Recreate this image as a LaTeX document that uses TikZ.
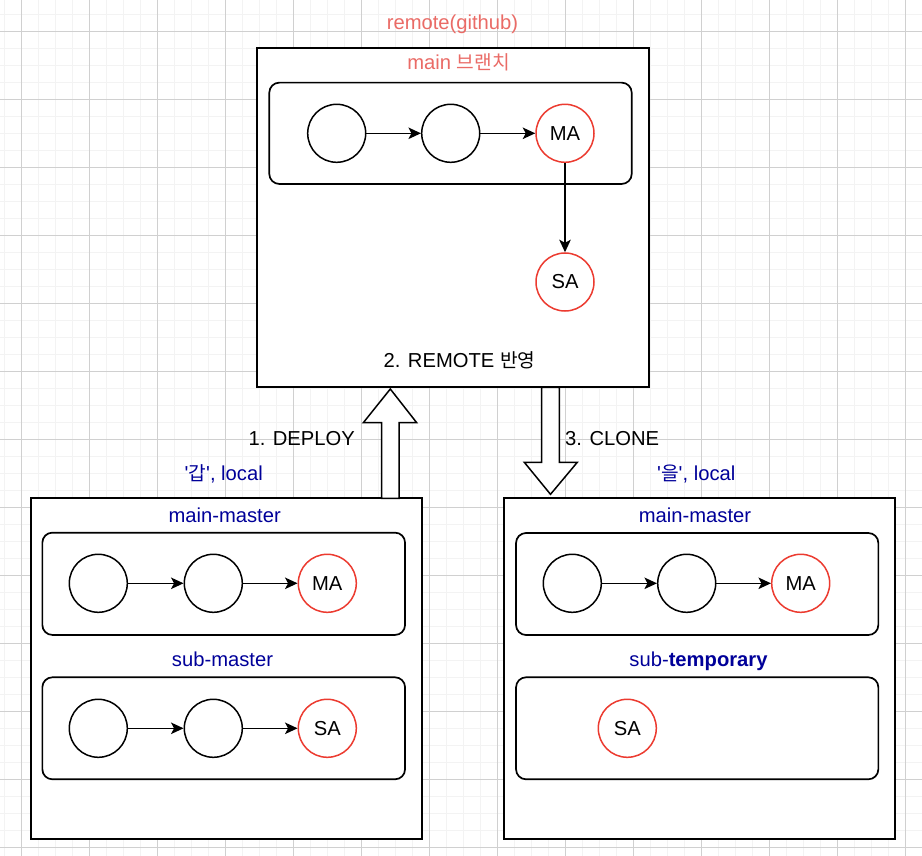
\documentclass[tikz,border=0pt]{standalone}
\usepackage{fontspec}
\setmainfont{Liberation Sans}
\newfontfamily\kr{Noto Sans CJK KR}[Scale=0.95]
\usetikzlibrary{arrows.meta}
\definecolor{gridmajor}{HTML}{D0D0D0}
\definecolor{gridminor}{HTML}{F3F3F3}
\definecolor{textred}{HTML}{EA6B66}
\definecolor{cred}{HTML}{EC3B30}
\definecolor{navy}{HTML}{000099}
\newcommand{\fs}{\fontsize{20.2}{24}\selectfont}
\begin{document}
\begin{tikzpicture}[x=1pt,y=-1pt,
  outerbox/.style={rectangle, draw=black, fill=white, line width=1.8pt, inner sep=0pt},
  branchbox/.style={rectangle, draw=black, fill=white, line width=1.7pt, rounded corners=10pt, inner sep=0pt},
  commit/.style={circle, draw=black, line width=1.5pt, fill=white, minimum size=58pt, inner sep=0pt, font=\fs},
  headcommit/.style={commit, draw=cred},
  lbl/.style={anchor=base, inner sep=0pt, font=\fs},
  flow/.style={-{Stealth[length=12.5pt,width=11.5pt,inset=3pt]}, line width=1.5pt},
  blockarrow/.style={draw=black, fill=white, line width=1.5pt, line join=miter}
]
\useasboundingbox (0,0) rectangle (922,856);
\fill[white] (0,0) rectangle (922,856);
% grid
\foreach \x in {4.3,21.3,...,922} \draw[gridminor, line width=1.5pt] (\x,0) -- (\x,856);
\foreach \y in {14.3,31.3,...,856} \draw[gridminor, line width=1.5pt] (0,\y) -- (922,\y);
\foreach \x in {21.3,89.3,...,922} \draw[gridmajor, line width=0.9pt] (\x,0) -- (\x,856);
\foreach \y in {31.3,99.3,...,856} \draw[gridmajor, line width=0.9pt] (0,\y) -- (922,\y);

% ---------- remote ----------
\node[outerbox, minimum width=391.4pt, minimum height=339pt] (remote) at (453,217.8) {};
\node[lbl, text=textred] (remotetitle) at (452.5,30) {remote(github)};
\node[lbl, text=textred] (maintitle) at (458.5,70) {main {\kr 브랜치}};
\node[branchbox, minimum width=362.4pt, minimum height=101.3pt] (rmain) at (450.5,133.3) {};
\node[commit] (r1) at (336.7,133.3) {};
\node[commit] (r2) at (450.7,133.3) {};
\node[headcommit] (rma) at (565,133.3) {MA};
\node[headcommit] (rsa) at (565,282) {SA};
\draw[flow] (r1) -- (r2);
\draw[flow] (r2) -- (rma);
\draw[flow] (rma) -- (rsa);
\node[lbl] (reflect) at (459.5,367.7) {2. REMOTE {\kr 반영}};

% ---------- left local ----------
\node[outerbox, minimum width=391pt, minimum height=340.4pt] (left) at (226.2,668.5) {};
\node[lbl, text=navy] (lefttitle) at (223.7,480) {\textquotesingle{\kr 갑}\textquotesingle, local};
\node[lbl, text=navy] (lmmtitle) at (224.7,522.7) {main-master};
\node[branchbox, minimum width=362.7pt, minimum height=102.3pt] (lmm) at (223.7,583.8) {};
\node[commit] (l1) at (98.3,583.3) {};
\node[commit] (l2) at (213.3,583.3) {};
\node[headcommit] (lma) at (327.3,583.3) {MA};
\draw[flow] (l1) -- (l2);
\draw[flow] (l2) -- (lma);
\node[lbl, text=navy] (lsmtitle) at (222.5,666.7) {sub-master};
\node[branchbox, minimum width=362.7pt, minimum height=102pt] (lsm) at (223.7,728.3) {};
\node[commit] (l3) at (98.3,728.3) {};
\node[commit] (l4) at (213.3,728.3) {};
\node[headcommit] (lsa) at (327.3,728.3) {SA};
\draw[flow] (l3) -- (l4);
\draw[flow] (l4) -- (lsa);

% ---------- right local ----------
\node[outerbox, minimum width=391.2pt, minimum height=340.4pt] (right) at (699.6,668.5) {};
\node[lbl, text=navy] (righttitle) at (696.3,480) {\textquotesingle{\kr 을}\textquotesingle, local};
\node[lbl, text=navy] (rmmtitle) at (695,522.7) {main-master};
\node[branchbox, minimum width=362.3pt, minimum height=102pt] (rmm) at (697.2,584) {};
\node[commit] (c1) at (572.3,583.3) {};
\node[commit] (c2) at (686.7,583.3) {};
\node[headcommit] (cma) at (800.7,583.3) {MA};
\draw[flow] (c1) -- (c2);
\draw[flow] (c2) -- (cma);
\node[lbl, text=navy] (rsttitle) at (698.5,666.7) {sub-\textbf{temporary}};
\node[branchbox, minimum width=362.3pt, minimum height=102pt] (rst) at (697.2,728.3) {};
\node[headcommit] (csa) at (627.3,728.3) {SA};

% ---------- block arrows ----------
\draw[blockarrow] (381.7,498.3) -- (381.7,422.7) -- (363.3,422.7) -- (390.3,389) -- (416.7,422.7) -- (399,422.7) -- (399,498.3) -- cycle;
\node[lbl] (deploy) at (301.7,445.7) {1. DEPLOY};
\draw[blockarrow] (541.7,387.3) -- (541.7,462.3) -- (524.3,462.3) -- (550.5,494.3) -- (577.3,462.3) -- (559.3,462.3) -- (559.3,387.3) -- cycle;
\node[lbl] (clone) at (612.2,445.7) {3. CLONE};
\end{tikzpicture}
\end{document}
